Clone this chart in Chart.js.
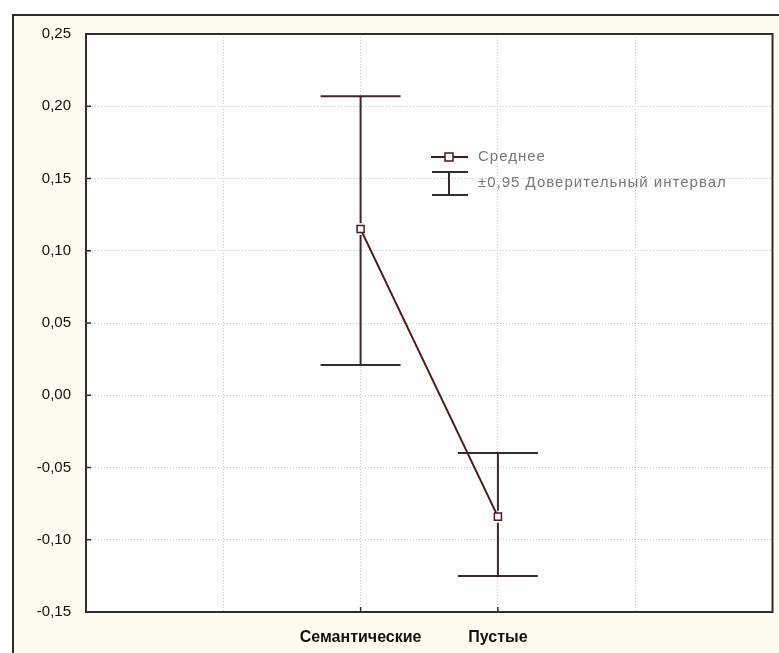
<!DOCTYPE html>
<html>
<head>
<meta charset="utf-8">
<script src="https://cdn.jsdelivr.net/npm/chart.js@4"></script>
<style>
  html, body { margin: 0; padding: 0; background: #fff; }
  #wrap { width: 779px; height: 653px; position: relative; }
</style>
</head>
<body>
<div id="wrap"><canvas id="meanChart" width="779" height="653"></canvas></div>
<script>
// data
var categories = ['Семантические', 'Пустые'];
var means = [0.115, -0.084];
var lowerCI = [0.021, -0.125];
var upperCI = [0.207, -0.040];
var yTicks = [0.25, 0.20, 0.15, 0.10, 0.05, 0.00, -0.05, -0.10, -0.15];

// two empty slots on the left, two on the right, as on the original axis
var labels = ['', ''].concat(categories, ['', '']);
function pad(arr) { return [null, null].concat(arr, [null, null]); }

var lineCol = '#4e1818';
var barCol = '#3a2a2a';
var FONT = '"Liberation Sans", Arial, sans-serif';

function noPad(s) {
  s.paddingLeft = 0; s.paddingRight = 0; s.paddingTop = 0; s.paddingBottom = 0;
}

var framePlugin = {
  id: 'frame',
  beforeDraw: function(chart) {
    var c = chart.ctx, a = chart.chartArea;
    c.save();
    c.fillStyle = '#ffffff';
    c.fillRect(0, 0, chart.width, chart.height);
    c.fillStyle = '#fefbf1';
    c.fillRect(13, 15, chart.width - 13, chart.height - 15);
    c.strokeStyle = '#2a2a2a';
    c.lineWidth = 2;
    c.beginPath();
    c.moveTo(13, chart.height); c.lineTo(13, 15); c.lineTo(chart.width, 15);
    c.stroke();
    c.fillStyle = '#ffffff';
    c.fillRect(a.left, a.top, a.right - a.left, a.bottom - a.top);
    c.restore();
  },
  afterDatasetsDraw: function(chart) {
    var c = chart.ctx, a = chart.chartArea;
    var xs = chart.scales.x, ys = chart.scales.y;
    c.save();
    // error bars
    c.strokeStyle = barCol;
    c.lineWidth = 2;
    categories.forEach(function(cat, i) {
      var x = xs.getPixelForValue(i + 2);
      var yl = ys.getPixelForValue(lowerCI[i]);
      var yu = ys.getPixelForValue(upperCI[i]);
      var ym = ys.getPixelForValue(means[i]);
      c.beginPath();
      c.moveTo(x, yu); c.lineTo(x, ym - 6);
      c.moveTo(x, ym + 6); c.lineTo(x, yl);
      c.moveTo(x - 40, yu); c.lineTo(x + 40, yu);
      c.moveTo(x - 40, yl); c.lineTo(x + 40, yl);
      c.stroke();
    });
    // plot border
    c.strokeStyle = '#2e2e2e';
    c.lineWidth = 2;
    c.strokeRect(a.left, a.top, a.right - a.left, a.bottom - a.top);
    // inward tick marks
    c.lineWidth = 1.5;
    c.beginPath();
    yTicks.forEach(function(v) {
      var y = ys.getPixelForValue(v);
      c.moveTo(a.left, y); c.lineTo(a.left + 5, y);
    });
    categories.forEach(function(cat, i) {
      var x = xs.getPixelForValue(i + 2);
      c.moveTo(x, a.bottom); c.lineTo(x, a.bottom - 5);
    });
    c.stroke();
    // legend
    var lx = 431, ly1 = 157, ly2 = 183;
    c.strokeStyle = lineCol;
    c.lineWidth = 2;
    c.beginPath(); c.moveTo(lx, ly1); c.lineTo(lx + 37, ly1); c.stroke();
    c.fillStyle = '#fff';
    c.fillRect(lx + 14, ly1 - 4, 8, 8);
    c.lineWidth = 1.5;
    c.strokeRect(lx + 14, ly1 - 4, 8, 8);
    c.strokeStyle = barCol;
    c.lineWidth = 2;
    c.beginPath();
    c.moveTo(lx + 1, 172); c.lineTo(lx + 37, 172);
    c.moveTo(lx + 18, 172); c.lineTo(lx + 18, 195);
    c.moveTo(lx + 1, 195); c.lineTo(lx + 37, 195);
    c.stroke();
    c.fillStyle = '#777777';
    c.font = '15px ' + FONT;
    c.letterSpacing = '1px';
    c.textBaseline = 'middle';
    c.fillText('Среднее', 478, ly1);
    c.fillText('±0,95 Доверительный интервал', 478, ly2);
    c.restore();
  }
};

new Chart(document.getElementById('meanChart'), {
  type: 'line',
  data: {
    labels: labels,
    datasets: [{
      label: 'Среднее',
      data: pad(means),
      borderColor: lineCol,
      borderWidth: 2,
      pointStyle: 'rect',
      pointRadius: 5,
      pointBorderWidth: 1.5,
      pointBackgroundColor: '#ffffff',
      pointBorderColor: lineCol,
      spanGaps: false
    }]
  },
  options: {
    responsive: false,
    animation: false,
    devicePixelRatio: 1,
    layout: { padding: { left: 0, top: 34, right: 3, bottom: 0 } },
    plugins: { legend: { display: false }, tooltip: { enabled: false } },
    scales: {
      x: {
        type: 'category',
        offset: false,
        grid: { color: '#c4c4c4', lineWidth: 1, drawTicks: false },
        border: { display: false, dash: [1, 2] },
        ticks: {
          autoSkip: false, maxRotation: 0, padding: 16,
          color: '#111',
          font: { family: FONT, size: 16, weight: 'bold' }
        },
        afterFit: function(s) { s.height = 41; noPad(s); }
      },
      y: {
        min: -0.15, max: 0.25,
        grid: { color: '#c4c4c4', lineWidth: 1, drawTicks: false },
        border: { display: false, dash: [1, 2] },
        afterBuildTicks: function(s) { s.ticks = yTicks.map(function(v) { return { value: v }; }); },
        ticks: {
          autoSkip: false,
          padding: 15,
          color: '#111',
          font: { family: FONT, size: 15 },
          callback: function(v) { return v.toFixed(2).replace('.', ','); }
        },
        afterFit: function(s) { s.width = 86; noPad(s); }
      }
    }
  },
  plugins: [framePlugin]
});
</script>
</body>
</html>
